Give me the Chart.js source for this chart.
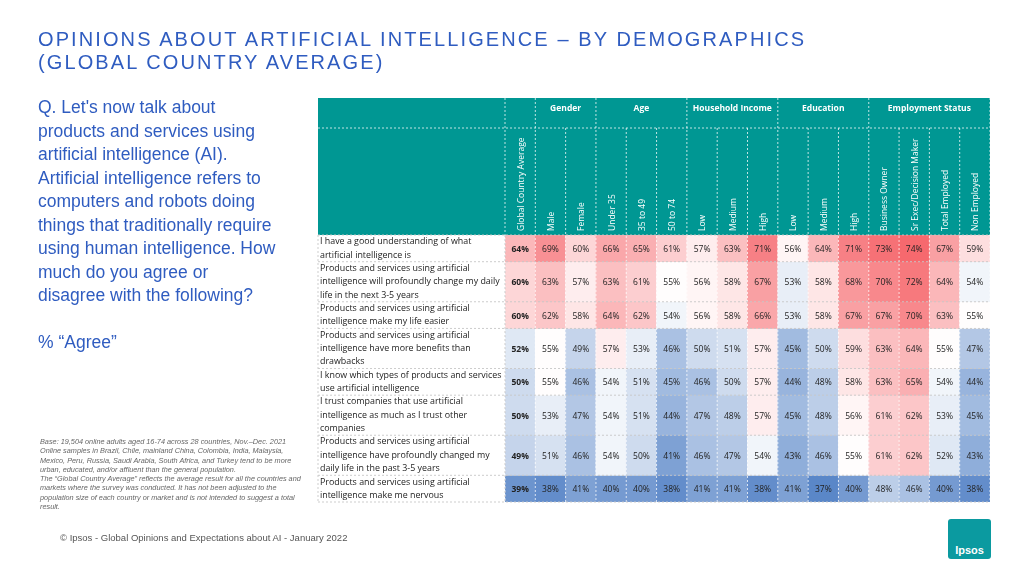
<!DOCTYPE html>
<html><head><meta charset="utf-8">
<script src="https://cdn.jsdelivr.net/npm/chart.js@4/dist/chart.umd.min.js"></script>
<style>
body{margin:0;width:1024px;height:576px;background:#fff;font-family:"Liberation Sans",Arial,sans-serif;position:relative;overflow:hidden}
#c{position:absolute;left:0;top:0}
.title{position:absolute;left:38px;top:28px;color:#2f5cc0;font-size:20px;letter-spacing:2.1px;line-height:23px}
.q{position:absolute;left:38px;top:96px;width:240px;color:#2f5cc0;font-size:17.5px;line-height:23.5px}
.base{position:absolute;left:40px;top:437px;width:270px;color:#666;font-size:7.3px;line-height:9.3px;font-style:italic}
.foot{position:absolute;left:60px;top:532px;color:#555;font-size:9.5px}
.logo{position:absolute;left:948px;top:519px;width:43px;height:40px;background:#0b9aa0;border-radius:3px;color:#fff;font-size:11px;font-weight:bold;text-align:center;line-height:62px}
</style></head><body>
<canvas id="c" width="1024" height="576"></canvas>
<div class="title">OPINIONS ABOUT ARTIFICIAL INTELLIGENCE – BY DEMOGRAPHICS<br>(GLOBAL COUNTRY AVERAGE)</div>
<div class="q">Q. Let's now talk about products and services using artificial intelligence (AI). Artificial intelligence refers to computers and robots doing things that traditionally require using human intelligence. How much do you agree or disagree with the following?<br><br>% “Agree”</div>
<div class="base">Base: 19,504 online adults aged 16-74 across 28 countries, Nov.–Dec. 2021<br>Online samples in Brazil, Chile, mainland China, Colombia, India, Malaysia, Mexico, Peru, Russia, Saudi Arabia, South Africa, and Turkey tend to be more urban, educated, and/or affluent than the general population.<br>The “Global Country Average” reflects the average result for all the countries and markets where the survey was conducted. It has not been adjusted to the population size of each country or market and is not intended to suggest a total result.</div>
<div class="foot">© Ipsos - Global Opinions and Expectations about AI - January 2022</div>
<div class="logo">Ipsos</div>
<script>
const columns=["Global Country Average","Male","Female","Under 35","35 to 49","50 to 74","Low","Medium","High","Low","Medium","High","Business Owner","Sr Exec/Decision Maker","Total Employed","Non Employed"];
const groups=[["Gender",1,2],["Age",3,5],["Household Income",6,8],["Education",9,11],["Employment Status",12,15]];
const statements=[
 ["I have a good understanding of what","artificial intelligence is"],
 ["Products and services using artificial","intelligence will profoundly change my daily","life in the next 3-5 years"],
 ["Products and services using artificial","intelligence make my life easier"],
 ["Products and services using artificial","intelligence have more benefits than","drawbacks"],
 ["I know which types of products and services","use artificial intelligence"],
 ["I trust companies that use artificial","intelligence as much as I trust other","companies"],
 ["Products and services using artificial","intelligence have profoundly changed my","daily life in the past 3-5 years"],
 ["Products and services using artificial","intelligence make me nervous"]];
const v1=[64,69,60,66,65,61,57,63,71,56,64,71,73,74,67,59];
const v2=[60,63,57,63,61,55,56,58,67,53,58,68,70,72,64,54];
const v3=[60,62,58,64,62,54,56,58,66,53,58,67,67,70,63,55];
const v4=[52,55,49,57,53,46,50,51,57,45,50,59,63,64,55,47];
const v5=[50,55,46,54,51,45,46,50,57,44,48,58,63,65,54,44];
const v6=[50,53,47,54,51,44,47,48,57,45,48,56,61,62,53,45];
const v7=[49,51,46,54,50,41,46,47,54,43,46,55,61,62,52,43];
const v8=[39,38,41,40,40,38,41,41,38,41,37,40,48,46,40,38];
const values=[v1,v2,v3,v4,v5,v6,v7,v8];

function col(v){
  const mid=55;
  if(v>=mid){const t=Math.min(1,(v-mid)/19);return `rgb(${Math.round(255-9*t)},${Math.round(253-148*t)},${Math.round(253-143*t)})`;}
  const t=Math.min(1,(mid-v)/18);return `rgb(${Math.round(250-160*t)},${Math.round(251-116*t)},${Math.round(253-53*t)})`;
}
let cum=0;const bounds=statements.map(s=>{const a=cum;cum+=s.length;return [a,cum];});
const datasets=values.map((vals,r)=>({data:vals.map(()=>[bounds[r][0],bounds[r][1]]),backgroundColor:vals.map(col),borderWidth:0,barPercentage:1,categoryPercentage:1,grouped:false}));

const plugin={id:'tbl',afterDraw(ch){
  const ctx=ch.ctx,xs=ch.scales.x,ys=ch.scales.y;
  const n=columns.length,cw=(ch.chartArea.right-ch.chartArea.left)/n;
  const L=318,R=ch.chartArea.right,T=98,GH=128,top=ch.chartArea.top;
  const cx=i=>xs.getPixelForValue(i);
  ctx.save();
  ctx.fillStyle='#009793';ctx.fillRect(L,T,R-L,top-T);
  ctx.setLineDash([2,2]);ctx.lineWidth=1;
  const line=(x1,y1,x2,y2)=>{ctx.beginPath();ctx.moveTo(x1,y1);ctx.lineTo(x2,y2);ctx.stroke();};
  ctx.strokeStyle='rgba(255,255,255,0.75)';
  line(L,GH,R,GH);
  for(let i=0;i<=n;i++){const x=cx(i)-cw/2; const gstart=groups.some(g=>g[1]===i)||i===0||i===n; line(x,gstart?T:GH,x,ch.chartArea.bottom);}
  ctx.strokeStyle='rgba(200,200,200,0.9)';
  bounds.forEach(b=>{const y=ys.getPixelForValue(b[0]);line(L,y,R,y);});
  line(L,ch.chartArea.bottom,R,ch.chartArea.bottom);line(L,top,L,ch.chartArea.bottom);line(cx(0)-cw/2,top,cx(0)-cw/2,ch.chartArea.bottom);
  ctx.setLineDash([]);
  ctx.fillStyle='#fff';ctx.font='bold 8.5px "Open Sans"';ctx.textAlign='center';ctx.textBaseline='middle';
  groups.forEach(g=>{ctx.fillText(g[0],(cx(g[1])+cx(g[2]))/2,T+11);});
  ctx.font='8.5px "Open Sans"';ctx.textAlign='left';
  columns.forEach((c,i)=>{ctx.save();ctx.translate(cx(i)+1,top-4);ctx.rotate(-Math.PI/2);ctx.fillText(c,0,0);ctx.restore();});
  ctx.fillStyle='#222';ctx.font='8.9px "Open Sans"';
  statements.forEach((s,r)=>{s.forEach((t,k)=>{ctx.fillText(t,320,ys.getPixelForValue(bounds[r][0]+k+0.5));});});
  ctx.textAlign='center';
  values.forEach((vals,r)=>{const y=ys.getPixelForValue((bounds[r][0]+bounds[r][1])/2);
    vals.forEach((v,i)=>{ctx.font=(i===0?'bold ':'')+'8.5px "Open Sans"';ctx.fillText(v+'%',cx(i),y+1);});});
  ctx.restore();
}};
new Chart(document.getElementById('c'),{type:'bar',data:{labels:columns,datasets},
 options:{responsive:false,animation:false,layout:{padding:{left:505,right:34,top:235,bottom:74}},
 plugins:{legend:{display:false},tooltip:{enabled:false}},
 scales:{x:{display:false,offset:true},y:{display:false,reverse:true,min:0,max:cum}}},plugins:[plugin]});
</script></body></html>
